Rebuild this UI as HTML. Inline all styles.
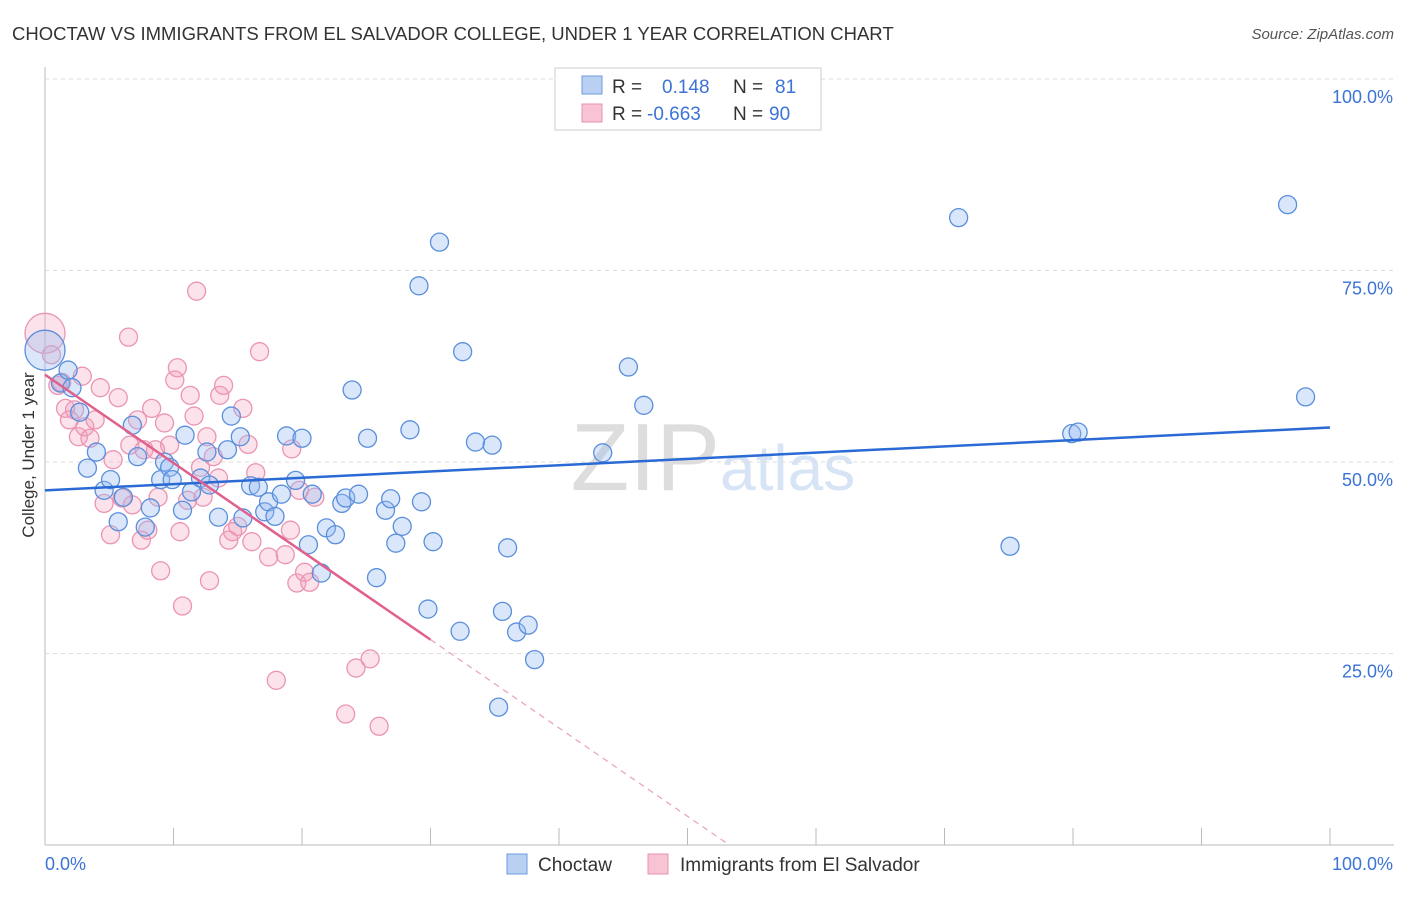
<!DOCTYPE html>
<html><head><meta charset="utf-8"><style>
body{margin:0;background:#fff;font-family:"Liberation Sans",sans-serif;}
svg text{font-family:"Liberation Sans",sans-serif;}
</style></head><body>
<svg width="1406" height="892" viewBox="0 0 1406 892" id="chart">
<text x="12" y="40" font-size="18.5" fill="#333">CHOCTAW VS IMMIGRANTS FROM EL SALVADOR COLLEGE, UNDER 1 YEAR CORRELATION CHART</text>
<text x="1394" y="39" font-size="15" fill="#555" font-style="italic" text-anchor="end">Source: ZipAtlas.com</text>
<text x="720" y="490" font-size="96" fill="#ddd" text-anchor="end" font-family="Liberation Serif">ZIP</text>
<text x="720" y="490" font-size="64" fill="#d6e4f6">atlas</text>
<g id="grid"></g>
<g id="marks"></g>
<text x="34" y="455" font-size="17" fill="#333" transform="rotate(-90 34 455)" text-anchor="middle">College, Under 1 year</text>
<g>
<rect x="555" y="68" width="266" height="62" fill="#fff" stroke="#ccc"/>
<rect x="582" y="76" width="20" height="18" fill="#b9d0f3" stroke="#6b9be0"/>
<rect x="582" y="104" width="20" height="18" fill="#f8c4d4" stroke="#e890b0"/>
<text x="612" y="93" font-size="19" fill="#333">R =</text><text x="662" y="93" font-size="19" fill="#3b73d6">0.148</text>
<text x="733" y="93" font-size="19" fill="#333">N =</text><text x="775" y="93" font-size="19" fill="#3b73d6">81</text>
<text x="612" y="120" font-size="19" fill="#333">R =</text><text x="647" y="120" font-size="19" fill="#3b73d6">-0.663</text>
<text x="733" y="120" font-size="19" fill="#333">N =</text><text x="769" y="120" font-size="19" fill="#3b73d6">90</text>
</g>
<g>
<rect x="507" y="854" width="20" height="20" fill="#b9d0f3" stroke="#6b9be0"/>
<text x="538" y="871" font-size="19" fill="#333">Choctaw</text>
<rect x="648" y="854" width="20" height="20" fill="#f8c4d4" stroke="#e890b0"/>
<text x="680" y="871" font-size="19" fill="#333">Immigrants from El Salvador</text>
</g>
</svg>
<script>
const yTicks=[25,50,75,100];
const yTickLabels=["25.0%","50.0%","75.0%","100.0%"];
const xTicks=[0,10,20,30,40,50,60,70,80,90,100];
const blueX=[0,1.2,1.8,2.1,2.7,3.3,4.0,4.6,5.1,5.7,6.1,6.8,7.2,7.8,8.2,9.0,9.3,9.7,9.9,10.7,10.9,11.4,12.1,12.6,12.8,13.5,14.2,14.5,15.2,15.4,16.0,16.6,17.1,17.4,17.9,18.4,18.8,19.5,20.0,20.5,20.8,21.5,21.9,22.6,23.1,23.4,23.9,24.4,25.1,25.8,26.5,26.9,27.3,27.8,28.4,29.1,29.3,29.8,30.2,30.7,32.3,32.5,33.5,34.8,35.3,35.6,36.0,36.7,37.6,38.1,43.4,45.4,46.6,71.1,75.1,79.9,80.4,96.7,98.1];
const blueY=[64.6,60.3,62,59.7,56.5,49.2,51.3,46.3,47.7,42.2,45.4,54.8,50.7,41.5,44,47.7,50,49.3,47.7,43.7,53.5,46.1,47.9,51.3,47,42.8,51.6,56,53.3,42.7,46.9,46.7,43.5,44.8,42.9,45.8,53.4,47.6,53.1,39.2,45.8,35.5,41.4,40.5,44.6,45.3,59.4,45.8,53.1,34.9,43.7,45.2,39.4,41.6,54.2,73,44.8,30.8,39.6,78.7,27.9,64.4,52.6,52.2,18,30.5,38.8,27.8,28.7,24.2,51.2,62.4,57.4,81.9,39,53.7,53.9,83.6,58.5];
const pinkX=[0,0.5,1.0,1.3,1.6,1.9,2.3,2.6,2.9,3.1,3.5,3.9,4.3,4.6,5.1,5.3,5.7,6.0,6.5,6.6,6.8,7.2,7.5,7.7,8.0,8.3,8.6,8.8,9.0,9.3,9.7,10.1,10.3,10.5,10.7,11.1,11.3,11.6,11.8,12.1,12.3,12.6,12.8,13.1,13.5,13.6,13.9,14.3,14.6,15.0,15.4,15.8,16.1,16.4,16.7,17.4,18.0,18.7,19.1,19.2,19.6,19.8,20.2,20.6,21.0,23.4,24.2,25.3,26.0];
const pinkY=[66.8,64,60,60.4,57,55.5,56.8,53.3,61.2,54.6,53.1,55.5,59.7,44.6,40.5,50.3,58.4,45.3,66.3,52.2,44.4,55.5,39.8,51.6,41.1,57,51.6,45.4,35.8,55.1,52.2,60.7,62.3,40.9,31.2,45,58.7,56,72.3,49.3,45.4,53.3,34.5,50.7,47.9,58.7,60,39.8,40.9,41.6,57,52.3,39.6,48.6,64.4,37.6,21.5,37.9,41.1,51.7,34.2,46.3,35.6,34.3,45.4,17.1,23.1,24.3,15.5];
const blueTrend=[46.3,54.5];
const pinkTrend=[61.4,-53.9];
const NS='http://www.w3.org/2000/svg';
const X0=45,X1=1330,Y0=845,Y100=79;
const sx=v=>X0+(X1-X0)*v/100, sy=v=>Y0-(Y0-Y100)*v/100;
function mk(t,a,p){const e=document.createElementNS(NS,t);for(const k in a)e.setAttribute(k,a[k]);p.appendChild(e);return e;}
const grid=document.getElementById('grid'), marks=document.getElementById('marks');
mk('line',{x1:X0,y1:Y100-12,x2:X0,y2:Y0,stroke:'#bbb'},grid);
mk('line',{x1:X0,y1:Y0,x2:1394,y2:Y0,stroke:'#bbb'},grid);
yTicks.forEach((v,i)=>{
 const l=mk('line',{x1:X0,y1:sy(v),x2:1394,y2:sy(v),stroke:'#ddd','stroke-dasharray':'4,4'},grid);
 
 
 const t=mk('text',{x:1393,y:sy(v)+24,'font-size':18,fill:'#3b73d6','text-anchor':'end'},grid);
 t.textContent=yTickLabels[i];
 
 
});
xTicks.forEach(v=>{
 const l=mk('line',{x1:sx(v),y1:Y0-17,x2:sx(v),y2:Y0,stroke:'#bbb'},grid);
 
 
});
const xl0=mk('text',{x:45,y:870,'font-size':18,fill:'#3b73d6'},grid);xl0.textContent='0.0%';


const xl1=mk('text',{x:1393,y:870,'font-size':18,fill:'#3b73d6','text-anchor':'end'},grid);xl1.textContent='100.0%';


function dots(xs,ys,fill,stroke,name){
 xs.forEach((x,i)=>{
  const c=mk('circle',{cx:sx(x),cy:sy(ys[i]),r:i===0?20:9,fill:fill,stroke:stroke,'stroke-width':1.3},marks);
  
  
 });
}
dots(pinkX,pinkY,'rgba(242,160,190,0.3)','#eb94b3','el-salvador-point');
dots(blueX,blueY,'rgba(150,185,240,0.35)','#5a8fdc','choctaw-point');
const bl=mk('line',{x1:sx(0),y1:sy(blueTrend[0]),x2:sx(100),y2:sy(blueTrend[1]),stroke:'#2a6ad4','stroke-width':2.5},marks);


const pf=v=>pinkTrend[0]+(pinkTrend[1]-pinkTrend[0])*v/100;
const pl=mk('line',{x1:sx(0),y1:sy(pf(0)),x2:sx(30),y2:sy(pf(30)),stroke:'#e0608e','stroke-width':2.5},marks);


const xEnd=(0-pinkTrend[0])/(pinkTrend[1]-pinkTrend[0])*100;
const pd=mk('line',{x1:sx(30),y1:sy(pf(30)),x2:sx(xEnd),y2:sy(0),stroke:'#e8a0ba','stroke-width':1.2,'stroke-dasharray':'6,5'},marks);


</script>
</body></html>
